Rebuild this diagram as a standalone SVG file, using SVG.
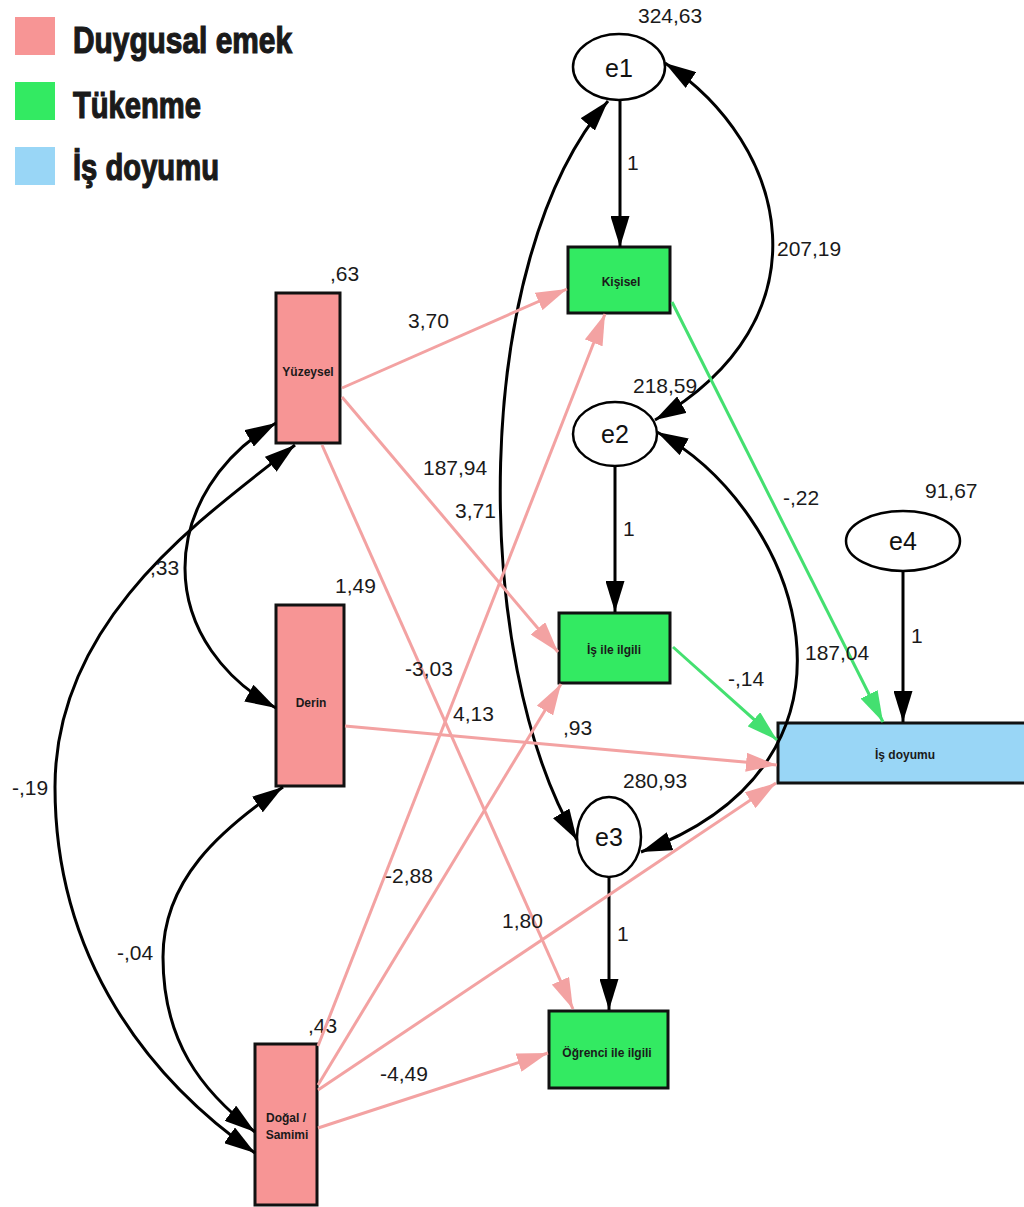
<svg xmlns="http://www.w3.org/2000/svg" width="1024" height="1207" viewBox="0 0 1024 1207">
<defs>
<style>
.num{font-family:"Liberation Sans",Arial,sans-serif;font-size:21px;fill:#1a1a1a}
.lbl{font-family:"Liberation Sans",Arial,sans-serif;font-size:12px;font-weight:bold;fill:#1a1a1a;text-anchor:middle}
.err{font-family:"Liberation Sans",Arial,sans-serif;font-size:25px;fill:#111;text-anchor:middle}
.leg{font-family:"Liberation Sans Narrow","Liberation Sans",Arial,sans-serif;font-size:36px;font-weight:bold;fill:#1a1a1a;stroke:#1a1a1a;stroke-width:1.2}
.pinkbox{fill:#F79595;stroke:#111;stroke-width:3}
.greenbox{fill:#33EA62;stroke:#111;stroke-width:3}
.bluebox{fill:#99D6F6;stroke:#111;stroke-width:3}
.ell{fill:#fff;stroke:#000;stroke-width:2.5}
.blk{fill:none;stroke:#000;stroke-width:3}
.pnk{fill:none;stroke:#F3A2A2;stroke-width:3}
.grn{fill:none;stroke:#44E070;stroke-width:3}
</style>
<marker id="ab" markerWidth="31" markerHeight="19" refX="31" refY="9.5" orient="auto-start-reverse" markerUnits="userSpaceOnUse"><path d="M0,0 L31,9.5 L0,19 z" fill="#000"/></marker>
<marker id="ap" markerWidth="31" markerHeight="19" refX="31" refY="9.5" orient="auto" markerUnits="userSpaceOnUse"><path d="M0,0 L31,9.5 L0,19 z" fill="#F3A2A2"/></marker>
<marker id="ag" markerWidth="31" markerHeight="19" refX="31" refY="9.5" orient="auto" markerUnits="userSpaceOnUse"><path d="M0,0 L31,9.5 L0,19 z" fill="#44E070"/></marker>
</defs>
<rect width="1024" height="1207" fill="#fff"/>

<g id="legend">
<rect x="15" y="17" width="40" height="38" fill="#F79595"/>
<text class="leg" x="73" y="53" textLength="219" lengthAdjust="spacingAndGlyphs">Duygusal emek</text>
<rect x="15" y="82" width="40" height="38" fill="#33EA62"/>
<text class="leg" x="73" y="118" textLength="128" lengthAdjust="spacingAndGlyphs">Tükenme</text>
<rect x="15" y="147" width="40" height="38" fill="#99D6F6"/>
<text class="leg" x="73" y="180" textLength="146" lengthAdjust="spacingAndGlyphs">İş doyumu</text>
</g>

<g id="node-yuzeysel">
<rect class="pinkbox" x="276" y="293" width="64" height="150"/>
<text class="lbl" x="308" y="376">Yüzeysel</text>
<text class="num" x="330" y="281">,63</text>
</g>
<g id="node-derin">
<rect class="pinkbox" x="276" y="605" width="68" height="181"/>
<text class="lbl" x="311" y="707">Derin</text>
<text class="num" x="335" y="593">1,49</text>
</g>
<g id="node-dogal">
<rect class="pinkbox" x="255" y="1044" width="62" height="161"/>
<text class="lbl" x="286" y="1122">Doğal /</text>
<text class="lbl" x="287" y="1139">Samimi</text>
<text class="num" x="308" y="1033">,43</text>
</g>
<g id="node-kisisel">
<rect class="greenbox" x="568" y="247" width="102" height="66"/>
<text class="lbl" x="621" y="286">Kişisel</text>
</g>
<g id="node-isileilgili">
<rect class="greenbox" x="559" y="613" width="111" height="70"/>
<text class="lbl" x="614" y="654">İş ile ilgili</text>
</g>
<g id="node-ogrenci">
<rect class="greenbox" x="549" y="1011" width="119" height="77"/>
<text class="lbl" x="607" y="1057">Öğrenci ile ilgili</text>
</g>
<g id="node-isdoyumu">
<rect class="bluebox" x="778" y="723" width="250" height="60"/>
<text class="lbl" x="905" y="759">İş doyumu</text>
</g>
<g id="node-e1">
<ellipse class="ell" cx="619" cy="67" rx="46" ry="33"/>
<text class="err" x="619" y="77">e1</text>
<text class="num" x="638" y="23">324,63</text>
</g>
<g id="node-e2">
<ellipse class="ell" cx="615" cy="434" rx="42" ry="32"/>
<text class="err" x="615" y="443">e2</text>
<text class="num" x="633" y="393">218,59</text>
</g>
<g id="node-e3">
<ellipse class="ell" cx="609" cy="837" rx="32" ry="40"/>
<text class="err" x="609" y="846">e3</text>
<text class="num" x="623" y="788">280,93</text>
</g>
<g id="node-e4">
<ellipse class="ell" cx="903" cy="541" rx="57" ry="30"/>
<text class="err" x="903" y="550">e4</text>
<text class="num" x="925" y="498">91,67</text>
</g>

<g id="connectors">
<line class="blk" x1="620" y1="101" x2="620" y2="247" marker-end="url(#ab)"/>
<line class="blk" x1="615" y1="466" x2="615" y2="612" marker-end="url(#ab)"/>
<line class="blk" x1="609" y1="877" x2="609" y2="1010" marker-end="url(#ab)"/>
<line class="blk" x1="903" y1="571" x2="903" y2="722" marker-end="url(#ab)"/>
<path class="blk" d="M665,63 C790,145 830,320 655,420" marker-start="url(#ab)" marker-end="url(#ab)"/>
<path class="blk" d="M657,432 C800,510 890,760 641,852" marker-start="url(#ab)" marker-end="url(#ab)"/>
<path class="blk" d="M608,101 C470,260 470,660 577,840" marker-start="url(#ab)" marker-end="url(#ab)"/>
<path class="blk" d="M276,423 C220,455 185,510 185,568 C185,630 225,680 276,708" marker-start="url(#ab)" marker-end="url(#ab)"/>
<path class="blk" d="M295,445 C200,520 55,620 55,787 C55,960 150,1080 255,1153" marker-start="url(#ab)" marker-end="url(#ab)"/>
<path class="blk" d="M283,787 C220,830 163,880 163,957 C163,1040 200,1090 255,1132" marker-start="url(#ab)" marker-end="url(#ab)"/>
<line class="pnk" x1="342" y1="388" x2="567" y2="289" marker-end="url(#ap)"/>
<line class="pnk" x1="342" y1="397" x2="558" y2="652" marker-end="url(#ap)"/>
<line class="pnk" x1="322" y1="445" x2="573" y2="1009" marker-end="url(#ap)"/>
<line class="pnk" x1="345" y1="726" x2="777" y2="765" marker-end="url(#ap)"/>
<line class="pnk" x1="318" y1="1046" x2="605" y2="314" marker-end="url(#ap)"/>
<line class="pnk" x1="318" y1="1085" x2="561" y2="684" marker-end="url(#ap)"/>
<line class="pnk" x1="318" y1="1090" x2="776" y2="783" marker-end="url(#ap)"/>
<line class="pnk" x1="318" y1="1128" x2="548" y2="1053" marker-end="url(#ap)"/>
<line class="grn" x1="672" y1="302" x2="883" y2="722" marker-end="url(#ag)"/>
<line class="grn" x1="673" y1="647" x2="777" y2="740" marker-end="url(#ag)"/>
</g>

<g id="labels">
<text class="num" x="627" y="170">1</text>
<text class="num" x="623" y="536">1</text>
<text class="num" x="617" y="941">1</text>
<text class="num" x="911" y="643">1</text>
<text class="num" x="777" y="256">207,19</text>
<text class="num" x="805" y="660">187,04</text>
<text class="num" x="423" y="475">187,94</text>
<text class="num" x="150" y="575">,33</text>
<text class="num" x="12" y="795">-,19</text>
<text class="num" x="117" y="960">-,04</text>
<text class="num" x="408" y="328">3,70</text>
<text class="num" x="455" y="518">3,71</text>
<text class="num" x="405" y="676">-3,03</text>
<text class="num" x="453" y="721">4,13</text>
<text class="num" x="563" y="735">,93</text>
<text class="num" x="385" y="883">-2,88</text>
<text class="num" x="502" y="928">1,80</text>
<text class="num" x="380" y="1081">-4,49</text>
<text class="num" x="783" y="505">-,22</text>
<text class="num" x="728" y="686">-,14</text>
</g>
</svg>
